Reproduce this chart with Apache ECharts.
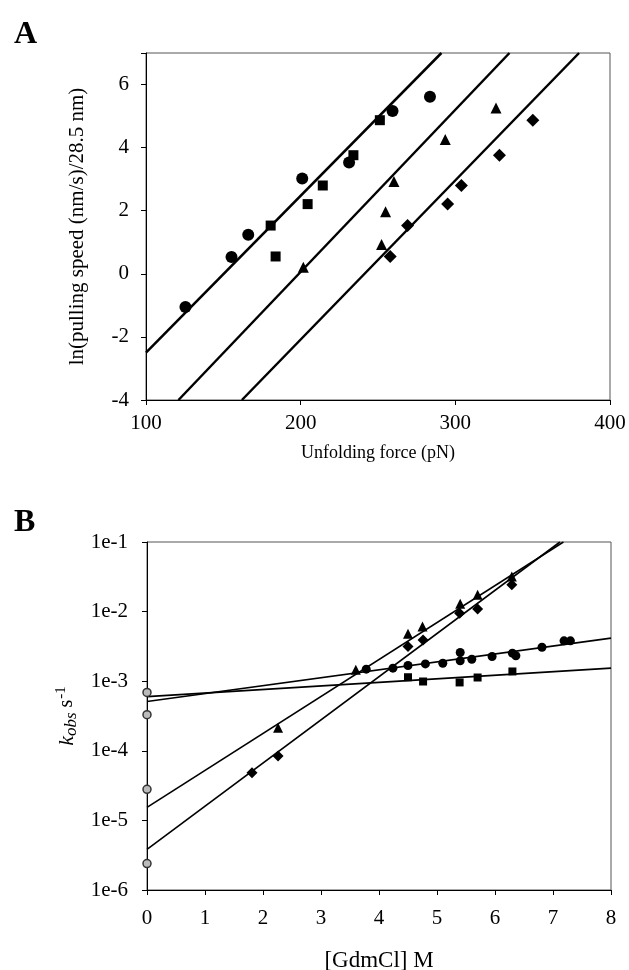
<!DOCTYPE html>
<html>
<head>
<meta charset="utf-8">
<script src="https://cdn.jsdelivr.net/npm/echarts@6/dist/echarts.min.js"></script>
<style>
  html, body { margin: 0; padding: 0; background: #fff; }
  #chart { width: 629px; height: 970px; }
</style>
</head>
<body>
<div id="chart"></div>
<script>
// Panel A: unfolding force (pN) vs ln(pulling speed)
const aCircles = [[125.5, -1.05], [155.3, 0.53], [166.1, 1.24], [201, 3.02], [231.3, 3.53], [259.4, 5.16], [283.6, 5.61]]
const aSquares = [[180.6, 1.53], [183.8, 0.55], [204.5, 2.21], [214.3, 2.8], [234.1, 3.76], [251.2, 4.87]]
const aTriangles = [[201.7, 0.21], [252.3, 0.93], [254.9, 1.97], [260.3, 2.93], [293.5, 4.26], [326.3, 5.26]]
const aDiamonds = [[257.9, 0.55], [269.1, 1.53], [295, 2.21], [303.9, 2.8], [328.5, 3.76], [350.1, 4.87]]
const aFit1 = [[100, -2.5], [291, 7]]
const aFit2 = [[121, -4], [335, 7]]
const aFit3 = [[162, -4], [380, 7]]

// Panel B: [GdmCl] vs k_obs (log scale)
const bZero = [[0, 6.9e-4], [0, 3.3e-4], [0, 2.8e-5], [0, 2.4e-6]]
const bTriangles = [[2.26, 2.15e-4], [3.6, 1.46e-3], [4.5, 4.8e-3], [4.75, 6.1e-3], [5.4, 1.3e-2], [5.7, 1.75e-2], [6.29, 3.2e-2]]
const bDiamonds = [[1.81, 4.85e-5], [2.26, 8.4e-5], [4.5, 3.15e-3], [4.76, 3.9e-3], [5.39, 9.5e-3], [5.7, 1.09e-2], [6.29, 2.43e-2]]
const bCircles = [[3.78, 1.49e-3], [4.24, 1.54e-3], [4.5, 1.68e-3], [4.8, 1.77e-3], [5.1, 1.81e-3], [5.4, 1.96e-3], [5.4, 2.58e-3],
  [5.6, 2.07e-3], [5.95, 2.26e-3], [6.3, 2.53e-3], [6.36, 2.32e-3], [6.81, 3.08e-3], [7.19, 3.8e-3], [7.3, 3.8e-3]]
const bSquares = [[4.5, 1.14e-3], [4.76, 9.9e-4], [5.39, 9.6e-4], [5.7, 1.13e-3], [6.3, 1.38e-3]]
const bFitTri = [[0, 1.54e-5], [7.18, 0.1]]
const bFitDia = [[0, 3.83e-6], [7.12, 0.1]]
const bFitCirc = [[0, 5.1e-4], [8, 4.16e-3]]
const bFitSq = [[0, 6.0e-4], [8, 1.54e-3]]

const font = 'Liberation Serif'
const chart = echarts.init(document.getElementById('chart'), null, { renderer: 'canvas' })

const axisCommon = {
  axisLine: { show: true, onZero: false, lineStyle: { color: '#000', width: 1 } },
  axisTick: { show: true, inside: false, length: 5, lineStyle: { color: '#000' } },
  splitLine: { show: false },
  axisLabel: { color: '#000', fontFamily: font, fontSize: 21 },
  nameTextStyle: { color: '#000', fontFamily: font, fontSize: 18 },
}

function dots(data, symbol, size, idx, extra) {
  return Object.assign({
    type: 'scatter', xAxisIndex: idx, yAxisIndex: idx, data, symbol, symbolSize: size,
    itemStyle: { color: '#000', opacity: 1 }, clip: false, z: 5,
  }, extra || {})
}

function fit(data, idx, width) {
  return {
    type: 'line', xAxisIndex: idx, yAxisIndex: idx, data, showSymbol: false,
    lineStyle: { color: '#000', width }, clip: true, silent: true,
  }
}

chart.setOption({
  animation: false,
  backgroundColor: '#fff',
  title: [
    { text: 'A', left: 9, top: 14, textStyle: { fontFamily: font, fontSize: 32, fontWeight: 'bold', color: '#000' } },
    { text: 'B', left: 9, top: 502, textStyle: { fontFamily: font, fontSize: 32, fontWeight: 'bold', color: '#000' } },
  ],
  grid: [
    { left: 146, top: 53, width: 464, height: 347, show: true, borderColor: '#555', borderWidth: 1, outerBoundsMode: 'none', containLabel: false },
    { left: 147, top: 542, width: 464, height: 348, show: true, borderColor: '#555', borderWidth: 1, outerBoundsMode: 'none', containLabel: false },
  ],
  xAxis: [
    Object.assign({}, axisCommon, {
      gridIndex: 0, type: 'value', min: 100, max: 400, interval: 100,
      name: 'Unfolding force (pN)', nameLocation: 'middle', nameGap: 44,
      axisLabel: Object.assign({}, axisCommon.axisLabel, { margin: 13 }),
    }),
    Object.assign({}, axisCommon, {
      gridIndex: 1, type: 'value', min: 0, max: 8, interval: 1,
      name: '[GdmCl] M', nameLocation: 'middle', nameGap: 59,
      nameTextStyle: Object.assign({}, axisCommon.nameTextStyle, { fontSize: 23 }),
      axisLabel: Object.assign({}, axisCommon.axisLabel, { margin: 18 }),
    }),
  ],
  yAxis: [
    Object.assign({}, axisCommon, {
      gridIndex: 0, type: 'value', min: -4, max: 7, interval: 2,
      name: 'ln(pulling speed (nm/s)/28.5 nm)', nameLocation: 'middle', nameGap: 58,
      nameTextStyle: Object.assign({}, axisCommon.nameTextStyle, { fontSize: 21 }),
      axisLabel: Object.assign({}, axisCommon.axisLabel, {
        margin: 17, formatter: v => (v > 6 ? '' : String(v)),
      }),
    }),
    Object.assign({}, axisCommon, {
      gridIndex: 1, type: 'log', logBase: 10, min: 1e-6, max: 1e-1,
      name: '{k|k}{sub|obs}{s| s}{sup|-1}', nameLocation: 'middle', nameGap: 62,
      nameTextStyle: {
        color: '#000', fontFamily: font, fontSize: 20,
        rich: {
          k: { fontFamily: font, fontSize: 22, fontStyle: 'italic', color: '#000', lineHeight: 26 },
          sub: { fontFamily: font, fontSize: 17, fontStyle: 'italic', color: '#000', verticalAlign: 'bottom', padding: [8, 0, 0, 0] },
          s: { fontFamily: font, fontSize: 20, color: '#000' },
          sup: { fontFamily: font, fontSize: 15, color: '#000', verticalAlign: 'top', padding: [0, 0, 10, 1] },
        },
      },
      axisLabel: Object.assign({}, axisCommon.axisLabel, {
        margin: 19, formatter: v => '1e' + Math.round(Math.log10(v)),
      }),
    }),
  ],
  series: [
    fit(aFit1, 0, 2.5),
    fit(aFit2, 0, 2.5),
    fit(aFit3, 0, 2.5),
    dots(aCircles, 'circle', 12, 0),
    dots(aSquares, 'rect', 10, 0),
    dots(aTriangles, 'triangle', 11, 0),
    dots(aDiamonds, 'diamond', 13, 0),

    fit(bFitTri, 1, 1.6),
    fit(bFitDia, 1, 1.6),
    fit(bFitCirc, 1, 1.6),
    fit(bFitSq, 1, 1.6),
    dots(bTriangles, 'triangle', 10, 1),
    dots(bDiamonds, 'diamond', 11, 1),
    dots(bCircles, 'circle', 9, 1),
    dots(bSquares, 'rect', 8, 1),
    dots(bZero, 'circle', 8, 1, { itemStyle: { color: '#bbb', borderColor: '#333', borderWidth: 1.5, opacity: 1 } }),
  ],
})
</script>
</body>
</html>
